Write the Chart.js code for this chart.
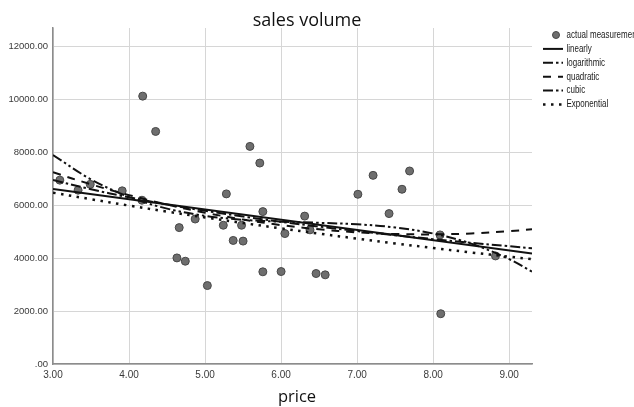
<!DOCTYPE html>
<html>
<head>
<meta charset="utf-8">
<script src="https://cdn.jsdelivr.net/npm/chart.js@4.4.1/dist/chart.umd.min.js"></script>
<style>
  html, body { margin: 0; padding: 0; background: #ffffff; }
  #wrap { width: 634px; height: 407px; }
</style>
</head>
<body>
<div id="wrap"><canvas id="c" width="634" height="407"></canvas></div>
<script>
// Observed price / sales volume pairs
const priceObs = [3.09, 3.33, 3.49, 3.91, 4.17, 4.18, 4.35, 4.63, 4.66, 4.74, 4.87, 5.03,
  5.24, 5.28, 5.37, 5.48, 5.50, 5.59, 5.72, 5.76, 5.76, 6.00, 6.05, 6.31, 6.38, 6.46,
  6.58, 7.01, 7.21, 7.42, 7.59, 7.69, 8.09, 8.10, 8.82];
const salesObs = [6950, 6570, 6790, 6545, 6190, 10125, 8790, 4010, 5155, 3885, 5480, 2965,
  5245, 6430, 4670, 5245, 4645, 8225, 7595, 5760, 3485, 3495, 4930, 5590, 5070, 3420,
  3370, 6415, 7130, 5685, 6605, 7295, 4880, 1900, 4085];

// Fitted curves, sampled along the price axis
const linearX = [3.0, 9.3];
const linearY = [6615, 4175];
const curveX = [3.0, 3.5, 4.0, 4.5, 5.0, 5.5, 6.0, 6.5, 7.0, 7.5, 8.0, 8.5, 9.0, 9.3];
const logY   = [6955, 6604, 6300, 6031, 5791, 5574, 5376, 5193, 5024, 4867, 4720, 4582, 4452, 4377];
const quadY  = [7245, 6790, 6384, 6027, 5719, 5460, 5250, 5089, 4977, 4914, 4900, 4935, 5019, 5090];
const cubicY = [7900, 6977, 6316, 5873, 5600, 5451, 5378, 5337, 5280, 5161, 4932, 4549, 3964, 3495];
const expY   = [6475, 6228, 5989, 5760, 5540, 5328, 5124, 4928, 4739, 4558, 4384, 4216, 4055, 3962];

// Axis ticks
const xTicks = [3, 4, 5, 6, 7, 8, 9];
const yTicks = [0, 2000, 4000, 6000, 8000, 10000, 12000];

const chartTitle = 'sales volume';
const xTitle = 'price';
const seriesNames = ['actual measurement', 'linearly', 'logarithmic', 'quadratic', 'cubic', 'Exponential'];

const pairs = (xs, ys) => xs.map((x, i) => ({ x: x, y: ys[i] }));

const lineBase = {
  type: 'line',
  borderColor: '#111111',
  borderWidth: 2,
  pointRadius: 0,
  fill: false,
  tension: 0.35,
  borderCapStyle: 'butt'
};

const datasets = [
  Object.assign({}, lineBase, { label: seriesNames[1], data: pairs(linearX, linearY), borderDash: [], tension: 0 }),
  Object.assign({}, lineBase, { label: seriesNames[2], data: pairs(curveX, logY), borderDash: [10, 3, 2.5, 3] }),
  Object.assign({}, lineBase, { label: seriesNames[3], data: pairs(curveX, quadY), borderDash: [8, 7] }),
  Object.assign({}, lineBase, { label: seriesNames[4], data: pairs(curveX, cubicY), borderDash: [10, 3, 2.5, 3, 2.5, 3] }),
  Object.assign({}, lineBase, { label: seriesNames[5], data: pairs(curveX, expY), borderDash: [2.5, 5.5], borderWidth: 2.5 }),
  {
    type: 'scatter',
    label: seriesNames[0],
    data: pairs(priceObs, salesObs),
    pointRadius: 4,
    pointHoverRadius: 4,
    backgroundColor: '#6e6e6e',
    borderColor: '#474747',
    borderWidth: 1,
    showLine: false
  }
];

// Titles and the key drawn onto the canvas
const decorations = {
  id: 'decorations',
  afterDraw(chart) {
    const ctx = chart.ctx;
    ctx.save();
    ctx.fillStyle = '#111111';
    ctx.textAlign = 'center';
    ctx.textBaseline = 'alphabetic';
    ctx.font = '18px "Open Sans", sans-serif';
    ctx.fillText(chartTitle, 307, 26);
    ctx.font = '16.5px "Open Sans", sans-serif';
    ctx.fillText(xTitle, 297, 402);

    // key entries, set in a condensed face
    const rowY0 = 35, rowStep = 13.9;
    const order = [5, 0, 1, 2, 3, 4];
    order.forEach((di, row) => {
      const ds = chart.data.datasets[di];
      const y = rowY0 + row * rowStep;
      if (ds.type === 'scatter') {
        ctx.beginPath();
        ctx.arc(556, y, 3.5, 0, Math.PI * 2);
        ctx.fillStyle = ds.backgroundColor;
        ctx.fill();
        ctx.lineWidth = 1;
        ctx.strokeStyle = ds.borderColor;
        ctx.stroke();
      } else {
        ctx.beginPath();
        ctx.setLineDash(ds.borderDash || []);
        ctx.lineWidth = ds.borderWidth;
        ctx.strokeStyle = ds.borderColor;
        ctx.moveTo(543, y);
        ctx.lineTo(563, y);
        ctx.stroke();
        ctx.setLineDash([]);
      }
      ctx.save();
      ctx.translate(566.5, y);
      ctx.scale(0.76, 1);
      ctx.font = '10.5px "Liberation Sans", Arial, sans-serif';
      ctx.textAlign = 'left';
      ctx.textBaseline = 'middle';
      ctx.fillStyle = '#1a1a1a';
      ctx.fillText(ds.label, 0, 0);
      ctx.restore();
    });
    ctx.restore();
  }
};

new Chart(document.getElementById('c'), {
  data: { datasets: datasets },
  options: {
    responsive: false,
    devicePixelRatio: 1,
    animation: false,
    layout: { padding: { left: 0, right: 102, top: 28, bottom: 0 } },
    plugins: { legend: { display: false }, title: { display: false }, tooltip: { enabled: false } },
    scales: {
      x: {
        type: 'linear',
        min: 3,
        max: 9.3,
        afterBuildTicks: (s) => { s.ticks = xTicks.map(v => ({ value: v })); },
        afterFit: (s) => { s.height = 43; },
        grid: { color: '#d6d6d6', lineWidth: 1, drawTicks: false },
        border: { color: '#8c8c8c', width: 1.5 },
        ticks: {
          padding: 5,
          color: '#3a3a3a',
          font: { family: '"Liberation Sans", Arial, sans-serif', size: 10 },
          maxRotation: 0,
          callback: (v) => Number(v).toFixed(2)
        }
      },
      y: {
        type: 'linear',
        min: 0,
        max: 12700,
        afterBuildTicks: (s) => { s.ticks = yTicks.map(v => ({ value: v })); },
        afterFit: (s) => { s.width = 53; },
        grid: { color: '#d6d6d6', lineWidth: 1, drawTicks: false },
        border: { color: '#8c8c8c', width: 1.5 },
        ticks: {
          padding: 5,
          color: '#3a3a3a',
          font: { family: '"Liberation Sans", Arial, sans-serif', size: 9.5 },
          callback: (v) => v === 0 ? '.00' : Number(v).toFixed(2)
        }
      }
    }
  },
  plugins: [decorations]
});
</script>
</body>
</html>
